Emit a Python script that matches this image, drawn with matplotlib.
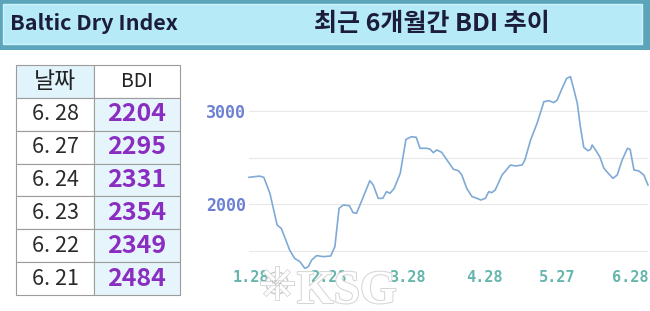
import numpy as np
import matplotlib
matplotlib.use("Agg")
import matplotlib.pyplot as plt
from matplotlib.patches import Rectangle, Circle
import matplotlib.patheffects as pe

plt.rcParams["font.family"] = ["Noto Sans CJK KR", "DejaVu Sans"]

# recent daily values shown in the table
dates = ["6. 28", "6. 27", "6. 24", "6. 23", "6. 22", "6. 21"]
bdi_recent = [2204, 2295, 2331, 2354, 2349, 2484]

# 6-month trend (t = trading days since 1.28)
t = [0, 2.8, 3.9, 5.5, 7.4, 8.5, 10.7, 12.0, 13.4, 14.7,
     15.6, 16.5, 17.8, 19.5, 21.5, 22.6, 23.7, 24.8, 26.4, 27.4,
     28.3, 30.1, 31.8, 32.7, 34.0, 35.2, 36.2, 37.1, 38.2, 39.8,
     41.3, 42.8, 44.0, 45.0, 46.8, 47.7, 48.5, 49.4, 50.7, 52.1,
     53.8, 55.1, 56.0, 57.3, 58.7, 60.0, 61.0, 62.2, 63.1, 63.9,
     64.8, 66.6, 68.8, 70.1, 71.9, 72.6, 74.1, 75.8, 77.6, 78.9,
     80.2, 81.1, 82.4, 83.6, 84.6, 85.3, 86.4, 87.2, 88.1, 89.2,
     89.9, 90.3, 91.2, 92.3, 93.4, 94.7, 95.8, 96.9, 98.2, 99.6,
     100.3, 101.3, 102.6, 103.9, 105]
bdi = [2287, 2300, 2287, 2115, 1774, 1738, 1505, 1416, 1380, 1308,
       1326, 1398, 1445, 1434, 1441, 1541, 1953, 1989, 1982, 1907,
       1900, 2079, 2251, 2204, 2061, 2061, 2133, 2115, 2168, 2330,
       2695, 2724, 2717, 2599, 2599, 2588, 2552, 2581, 2556, 2473,
       2373, 2358, 2312, 2168, 2079, 2061, 2043, 2061, 2133, 2122,
       2151, 2312, 2419, 2409, 2419, 2473, 2688, 2867, 3100, 3111,
       3090, 3118, 3244, 3351, 3369, 3262, 3082, 2832, 2609, 2573,
       2588, 2634, 2581, 2509, 2384, 2323, 2276, 2312, 2473, 2599,
       2588, 2366, 2355, 2312, 2204]
tick_pos = [0.4, 20.8, 41.6, 62, 81, 100.2]
tick_lab = ["1.28", "2.28", "3.28", "4.28", "5.27", "6.28"]

W, H = 650, 311
fig = plt.figure(figsize=(W / 100, H / 100), dpi=100)
fig.patch.set_facecolor("white")

# pixel-space overlay for title bar and table
bg = fig.add_axes([0, 0, 1, 1])
bg.set_xlim(0, W); bg.set_ylim(H, 0); bg.axis("off")

bg.add_patch(Rectangle((0, 0), W, 50, color="#5ba4b9", lw=0))
bg.add_patch(Rectangle((3, 4), 639, 40, facecolor="#b6eaf6", edgecolor="#cdf3fb", lw=1))
bg.text(10, 24, "Baltic Dry Index", fontsize=15.5, fontweight="bold", color="#1c1c3c",
        va="center", ha="left")
bg.text(432, 24, "최근 6개월간 BDI 추이", fontsize=18, fontweight="bold", color="#1c1c3c",
        va="center", ha="center")

# table
x0, x1, x2 = 16, 94, 180
y0, rh = 65, (295 - 65) / 7
edge = "#9c9c9c"
bg.add_patch(Rectangle((x0, y0), x1 - x0, rh, facecolor="#e1f3fb", edgecolor=edge, lw=0.8))
bg.add_patch(Rectangle((x1, y0), x2 - x1, rh, facecolor="white", edgecolor=edge, lw=0.8))
bg.text((x0 + x1) / 2, y0 + rh / 2, "날짜", fontsize=16.5, ha="center", va="center", color="#222222")
bg.text((x1 + x2) / 2, y0 + rh / 2, "BDI", fontsize=14, ha="center", va="center", color="#222222")
for i, (d, v) in enumerate(zip(dates, bdi_recent)):
    yy = y0 + rh * (i + 1)
    bg.add_patch(Rectangle((x0, yy), x1 - x0, rh, facecolor="white", edgecolor=edge, lw=0.8))
    bg.add_patch(Rectangle((x1, yy), x2 - x1, rh, facecolor="#e6f5fc", edgecolor=edge, lw=0.8))
    bg.text((x0 + x1) / 2, yy + rh / 2, d, fontsize=15.5, ha="center", va="center", color="#2a2a2a")
    bg.text((x1 + x2) / 2, yy + rh / 2, f"{v}", fontsize=18, fontweight="bold",
            ha="center", va="center", color="#8a2ec2")

# line chart
ylo, yhi = 1250, 3500
ax = fig.add_axes([249 / W, 1 - 273.75 / H, (648 - 249) / W, (273.75 - 64.5) / H])
ax.set_facecolor("none")
ax.plot(t, bdi, color="#80aad6", lw=1.2, solid_joinstyle="round", clip_on=False)
ax.set_xlim(0, 105)
ax.set_ylim(ylo, yhi)
ax.set_yticks([1500, 2000, 2500, 3000])
ax.set_yticklabels(["", "2000", "", "3000"])
ax.grid(axis="y", color="#e8e8e8", lw=0.8)
ax.set_axisbelow(True)
ax.set_xticks(tick_pos)
ax.set_xticklabels(tick_lab)
ax.tick_params(length=0)
ax.tick_params(axis="y", pad=2, labelcolor="#6c80d4", labelsize=12)
ax.tick_params(axis="x", pad=-3, labelcolor="#66b6ad", labelsize=11)
for lab in ax.get_yticklabels() + ax.get_xticklabels():
    lab.set_family(["DejaVu Sans Mono"])
    lab.set_fontweight("bold")
for s in ax.spines.values():
    s.set_visible(False)

# KSG watermark
wm = fig.add_axes([0, 0, 1, 1])
wm.set_xlim(0, W); wm.set_ylim(H, 0); wm.axis("off")
cx, cy = 277, 283
for a in np.linspace(0, 2 * np.pi, 8, endpoint=False):
    wm.plot([cx, cx + 15 * np.cos(a)], [cy, cy + 15 * np.sin(a)], color="white", lw=2.5,
            path_effects=[pe.withStroke(linewidth=3.5, foreground="#cfcfcf")])
wm.add_patch(Circle((cx, cy), 11, facecolor="white", edgecolor="#c8c8c8", lw=1))
wm.add_patch(Circle((cx, cy), 7, facecolor="white", edgecolor="#c8c8c8", lw=0.8))
wm.text(cx, cy, "KSG", fontsize=4, ha="center", va="center", color="#b0b0b0")
wm.text(297, 303, "KSG", fontsize=34, fontweight="bold", family=["Liberation Serif"],
        color="white", ha="left", va="baseline",
        path_effects=[pe.withStroke(linewidth=1.5, foreground="#d6d6d6")])

fig.savefig("out.png", dpi=100)
